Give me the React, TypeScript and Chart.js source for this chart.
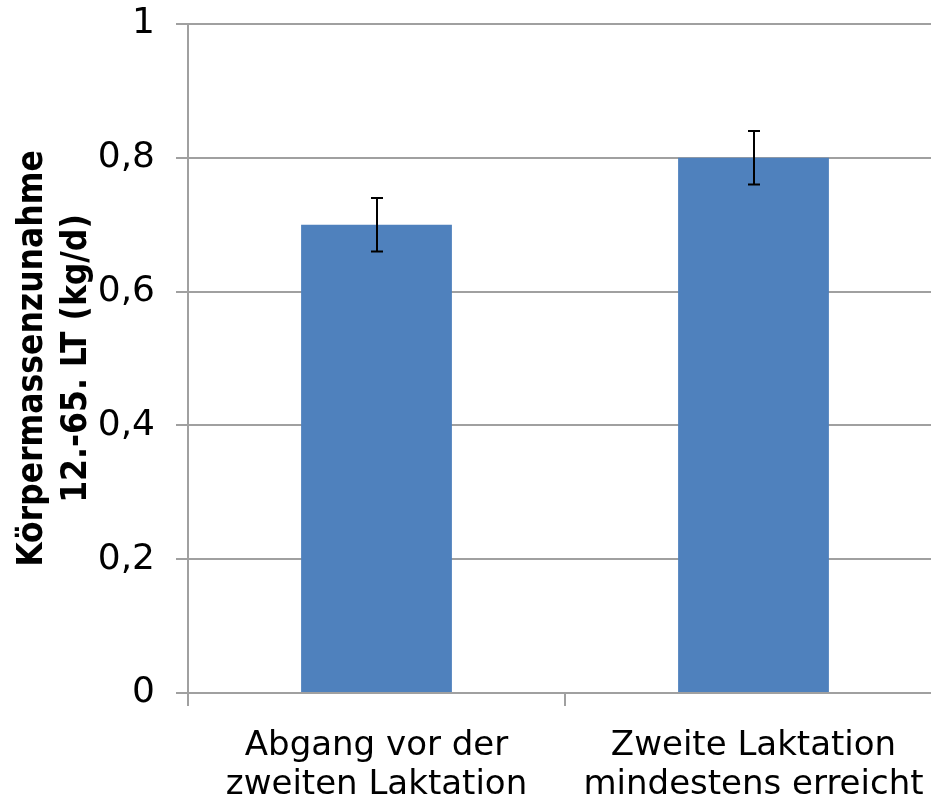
import React, { useEffect, useRef } from "react";
import { Chart, registerables } from "chart.js";

Chart.register(...registerables);

const categories = [
  ["Abgang vor der", "zweiten Laktation"],
  ["Zweite Laktation", "mindestens erreicht"],
];
const values = [0.7, 0.8];
const errors = [0.04, 0.04];
const yTicks = [0, 0.2, 0.4, 0.6, 0.8, 1];
const yTitle = ["Körpermassenzunahme", "12.-65. LT (kg/d)"];

const errorBarPlugin = {
  id: "errorBars",
  afterDatasetsDraw(chart: any) {
    const ctx = chart.ctx;
    const meta = chart.getDatasetMeta(0);
    const y = chart.scales.y;
    ctx.save();
    ctx.strokeStyle = "#000";
    ctx.lineWidth = 2;
    meta.data.forEach((bar: any, i: number) => {
      const x = Math.round(bar.x);
      const top = y.getPixelForValue(values[i] + errors[i]);
      const bot = y.getPixelForValue(values[i] - errors[i]);
      ctx.beginPath();
      ctx.moveTo(x, top);
      ctx.lineTo(x, bot);
      ctx.moveTo(x - 6, top);
      ctx.lineTo(x + 6, top);
      ctx.moveTo(x - 6, bot);
      ctx.lineTo(x + 6, bot);
      ctx.stroke();
    });
    ctx.restore();
  },
};

export default function App() {
  const ref = useRef<HTMLCanvasElement>(null);
  useEffect(() => {
    const chart = new Chart(ref.current as HTMLCanvasElement, {
      type: "bar",
      data: {
        labels: categories,
        datasets: [
          {
            data: values,
            backgroundColor: "#4F81BD",
            barPercentage: 0.4,
            categoryPercentage: 1,
          },
        ],
      },
      options: {
        responsive: false,
        animation: false,
        layout: { padding: { top: 24, left: 0, right: 0, bottom: 0 } },
        plugins: { legend: { display: false }, tooltip: { enabled: false } },
        scales: {
          x: {
            grid: {
              offset: true,
              drawOnChartArea: false,
              drawTicks: true,
              tickLength: 13,
              color: "#a0a0a0",
              lineWidth: 2,
            },
            border: { color: "#a0a0a0", width: 2 },
            ticks: {
              color: "#000",
              font: { family: "DejaVu Sans", size: 34, lineHeight: 1.15 },
              padding: 21,
              maxRotation: 0,
              autoSkip: false,
            },
            afterFit: (s: any) => {
              s.height = 115;
              s.paddingLeft = 0;
              s.paddingRight = 0;
            },
          },
          y: {
            min: 0,
            max: 1,
            afterBuildTicks: (s: any) => {
              s.ticks = yTicks.map((v) => ({ value: v }));
            },
            grid: { color: "#a0a0a0", lineWidth: 2, tickLength: 12 },
            border: { color: "#a0a0a0", width: 2 },
            ticks: {
              color: "#000",
              font: { family: "DejaVu Sans", size: 36 },
              padding: 21,
              callback: (v: any) => String(v).replace(".", ","),
            },
            title: {
              display: true,
              text: yTitle,
              color: "#000",
              font: {
                family: "DejaVu Sans Condensed",
                size: 35,
                weight: "bold",
                lineHeight: 1.25,
              },
              padding: { top: 11, bottom: 0 },
            },
            afterFit: (s: any) => {
              s.width = 188;
              s.paddingTop = 0;
              s.paddingBottom = 0;
            },
          },
        },
      } as any,
      plugins: [errorBarPlugin],
    });
    return () => chart.destroy();
  }, []);
  return (
    <div
      style={{
        position: "fixed",
        left: 0,
        top: 0,
        width: 931,
        height: 808,
        overflow: "hidden",
        background: "#fff",
      }}
    >
      <canvas ref={ref} width={942} height={808} style={{ display: "block" }} />
    </div>
  );
}
